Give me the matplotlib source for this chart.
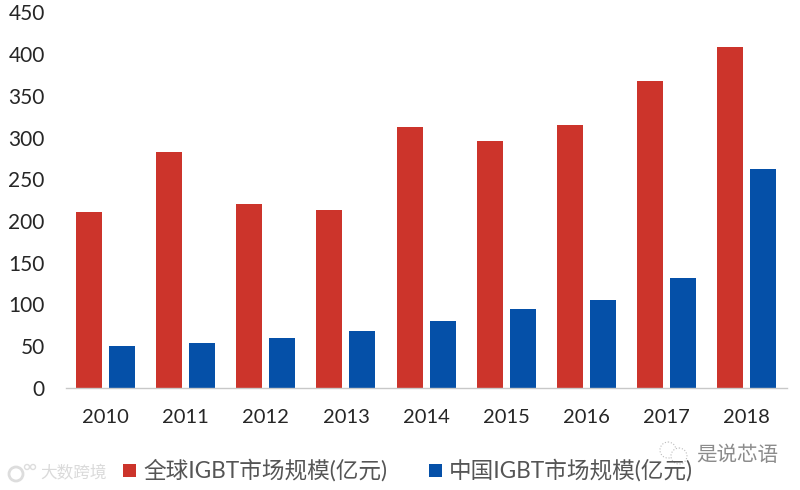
import numpy as np
import matplotlib
matplotlib.use('Agg')
import matplotlib.pyplot as plt
from matplotlib.patches import Circle, Rectangle

plt.rcParams['font.family'] = ['Lato', 'Noto Sans CJK SC', 'DejaVu Sans']

years = ['2010', '2011', '2012', '2013', '2014', '2015', '2016', '2017', '2018']
global_market = [210, 282, 220, 213, 312, 296, 315, 368, 408]
china_market = [50, 54, 59, 68, 80, 94, 105, 132, 262]
y_ticks = [0, 50, 100, 150, 200, 250, 300, 350, 400, 450]
global_label = '全球IGBT市场规模(亿元)'
china_label = '中国IGBT市场规模(亿元)'

W, H = 800, 490
RED = '#CC342B'
BLUE = '#0550A8'
TEXT = '#262626'
LEGEND_TEXT = '#555555'


def fx(px):
    return px / W


def fy(py):
    # pixel rows count from the top, figure coords from the bottom
    return 1 - py / H


fig = plt.figure(figsize=(W / 100, H / 100), dpi=100, facecolor='white')
ax = fig.add_axes([fx(65.6), fy(387.5), fx(721), fy(12.5) - fy(387.5)])

x = np.arange(len(years))
width = 26 / 80.1
offset = 16.5 / 80.1
ax.bar(x - offset, global_market, width, color=RED)
ax.bar(x + offset, china_market, width, color=BLUE)

ax.set_xlim(-0.5, len(years) - 0.5)
ax.set_ylim(0, 450)
ax.set_xticks(x, years)
ax.set_yticks(y_ticks)
ax.tick_params(axis='both', length=0, labelcolor=TEXT)
ax.tick_params(axis='x', pad=15.5, labelsize=14.5)
ax.tick_params(axis='y', pad=15, labelsize=15)
for name in ['top', 'right', 'left']:
    ax.spines[name].set_visible(False)
ax.spines['bottom'].set_color('#C8C8C8')
ax.spines['bottom'].set_linewidth(1)

# Hand placed legend, the two entries sit far apart in the original
for sx, color, label in [(123, RED, global_label), (429, BLUE, china_label)]:
    fig.add_artist(Rectangle((fx(sx), fy(477)), fx(13), fy(464) - fy(477),
                             transform=fig.transFigure, color=color, lw=0))
    fig.text(fx(sx + 20), fy(470), label, fontsize=16.3, color=LEGEND_TEXT, va='center', ha='left')

# Watermarks
fig.text(fx(40), fy(474), '大数跨境', fontsize=12, color='#DADADA', va='center', ha='left',
         family='Noto Sans CJK SC')
fig.text(fx(696), fy(455), '是说芯语', fontsize=14.8, color='#8C8C8C', va='center', ha='left',
         family='Noto Sans CJK SC')
icon = fig.add_axes([0, 0, 1, 1], facecolor='none')
icon.set_xlim(0, W)
icon.set_ylim(H, 0)
icon.axis('off')
icon.add_patch(Circle((668, 450), 8, fill=False, ec='#BBBBBB', lw=0.8, ls=':'))
icon.add_patch(Circle((679, 456), 8, fill=True, fc='white', ec='#BBBBBB', lw=0.8, ls=':'))
icon.add_patch(Circle((16, 474), 7, fill=False, ec='#DDDDDD', lw=2))
icon.add_patch(Circle((27, 467), 2.5, fill=False, ec='#DDDDDD', lw=1))
icon.add_patch(Circle((33, 467), 2.5, fill=False, ec='#DDDDDD', lw=1))

fig.savefig('out.png', dpi=100)
